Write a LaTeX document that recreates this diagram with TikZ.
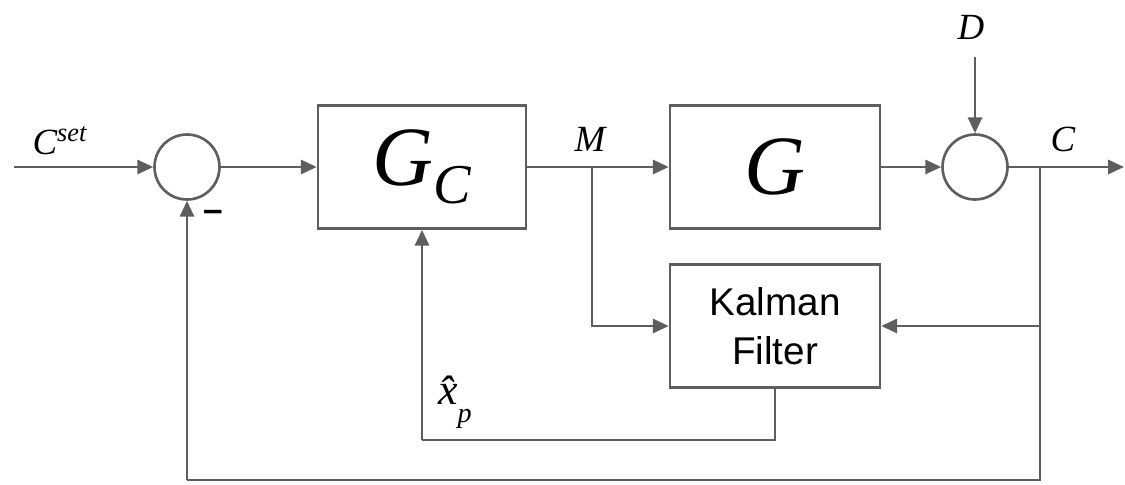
\documentclass[tikz,border=0pt]{standalone}
\usepackage{fontspec}
\setmainfont{Liberation Serif}
\setsansfont{Liberation Sans}
\usetikzlibrary{arrows.meta,positioning}
\definecolor{wire}{HTML}{5E5E5E}

\begin{document}
\begin{tikzpicture}[x=0.02cm,y=-0.02cm,
blk/.style={draw=wire,line width=1.5pt,minimum width=4.16cm,minimum height=2.46cm,inner sep=0pt},
sumc/.style={draw=wire,line width=1.5pt,circle,minimum size=1.3cm,inner sep=0pt},
lbl/.style={font=\fontsize{21}{23}\selectfont\itshape,inner sep=0pt},
arr/.style={draw=wire,line width=1.5pt,-{Triangle[length=9pt,width=8pt]}},
ln/.style={draw=wire,line width=1.5pt}]
\useasboundingbox (0,0) rectangle (1125,484);
% blocks
\node[sumc] (S1) at (187,167) {};
\node[blk] (GC) at (422,167) {\fontsize{48}{52}\selectfont\itshape G\raisebox{-0.22em}{\fontsize{32}{34}\selectfont C}};
\node[blk,minimum width=4.2cm] (G) at (775,167) {\fontsize{48}{52}\selectfont\itshape G};
\node[sumc] (S2) at (975,167) {};
\node[blk,minimum width=4.2cm,align=center,font=\sffamily\fontsize{22}{28}\selectfont] (KF) at (775,326) {Kalman\\Filter};
% points on the wires
\coordinate (in) at (14,167);
\coordinate (out) at (1124,167);
\coordinate (dtop) at (975,57);
\coordinate (mb) at (592,167);
\coordinate (cb) at (1040,167);
\coordinate (br) at (1040,480);
\coordinate (bl) at (187,480);
\coordinate (kb) at (775,440);
\coordinate (gb) at (422,440);
% labels
\node[lbl] (cset) at (60,141) {C\textsuperscript{\fontsize{15}{15}\selectfont set}};
\node[font=\sffamily\bfseries\fontsize{20}{20}\selectfont,inner sep=0pt] (minus) at (213,216) {–};
\node[lbl] (mlab) at (590,139) {M};
\node[lbl] (dlab) at (971,27) {D};
\node[lbl] (clab) at (1063,139) {C};
\node[lbl,font=\fontsize{25}{27}\selectfont\itshape] (xhat) at (455,402) {\^{x}\raisebox{-0.4em}{\fontsize{16}{16}\selectfont\itshape p}};
% wires
\draw[arr] (in) -- (S1);
\draw[arr] (S1) -- (GC);
\draw[arr] (GC) -- (G);
\draw[arr] (G) -- (S2);
\draw[arr] (dtop) -- (S2);
\draw[arr] (S2) -- (out);
\draw[arr] (mb) |- (KF);
\draw[arr] (cb) |- (KF);
\draw[ln] (cb) -- (br) -- (bl);
\draw[arr] (bl) -- (S1);
\draw[ln] (KF) -- (kb) -- (gb);
\draw[arr] (gb) -- (GC);
\end{tikzpicture}
\end{document}
